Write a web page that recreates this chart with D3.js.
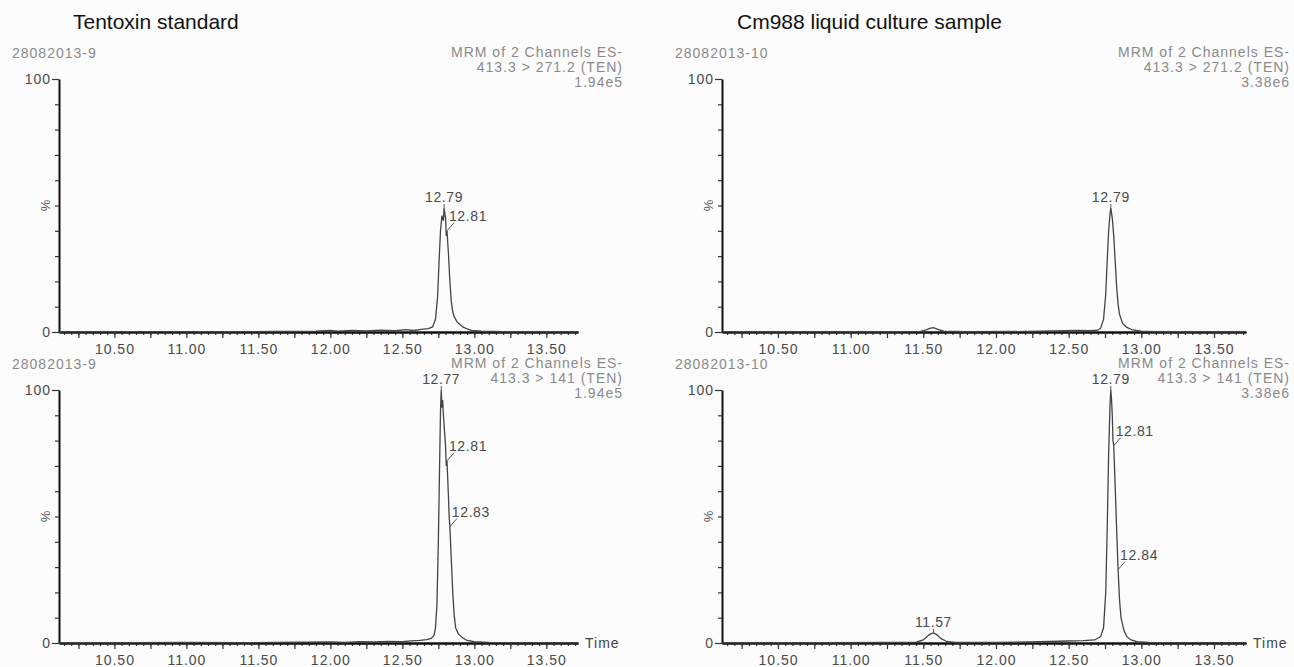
<!DOCTYPE html>
<html>
<head>
<meta charset="utf-8">
<script src="https://cdnjs.cloudflare.com/ajax/libs/d3/7.8.5/d3.min.js"></script>
<style>
body { margin: 0; background: #fcfcfc; }
svg { font-family: "Liberation Sans", Arial, sans-serif; }
.hdr { fill: #8a8a8a; font-size: 14px; letter-spacing: 1px; }
.tick text { fill: #4a4a4a; font-size: 14px; letter-spacing: 1px; font-family: "Liberation Sans", Arial, sans-serif; }
.pk { fill: #4a4a4a; font-size: 14px; letter-spacing: 0.6px; }
</style>
</head>
<body>
<div id="main"></div>
<script>
var WIDTH = 1294
var HEIGHT = 667

// [retention time (min), relative intensity (%)]
var stdTen271 = [
    [10.12, 0.1], [10.40, 0.1], [10.80, 0.15], [11.20, 0.1], [11.60, 0.2], [11.90, 0.3],
    [12.00, 0.6], [12.05, 0.3], [12.15, 0.6], [12.25, 0.4], [12.35, 0.7], [12.45, 0.5],
    [12.52, 0.9], [12.58, 0.6], [12.63, 1.0], [12.68, 1.3], [12.71, 2], [12.73, 5],
    [12.745, 14], [12.755, 28], [12.765, 40], [12.775, 46], [12.785, 44], [12.79, 49],
    [12.80, 45], [12.805, 38], [12.81, 40], [12.82, 31], [12.83, 20], [12.84, 12], [12.85, 8],
    [12.86, 6], [12.88, 4], [12.90, 3], [12.92, 2], [12.95, 1.2], [12.98, 0.6],
    [13.05, 0.3], [13.20, 0.1], [13.72, 0.1]
]
var stdTen141 = [
    [10.12, 0.1], [10.60, 0.1], [11.00, 0.2], [11.40, 0.1], [11.80, 0.3], [12.00, 0.4],
    [12.10, 0.2], [12.20, 0.5], [12.30, 0.4], [12.40, 0.6], [12.50, 0.5], [12.56, 0.8],
    [12.62, 1.0], [12.67, 1.3], [12.70, 1.8], [12.72, 3], [12.73, 6], [12.74, 15],
    [12.75, 40], [12.76, 75], [12.765, 92], [12.77, 100], [12.775, 93], [12.78, 96],
    [12.785, 90], [12.79, 86], [12.80, 78], [12.805, 70], [12.81, 72], [12.82, 58],
    [12.825, 50], [12.83, 46], [12.84, 33], [12.85, 20], [12.86, 11], [12.87, 6],
    [12.89, 3.5], [12.92, 2], [12.95, 1], [13.00, 0.5], [13.10, 0.2], [13.72, 0.1]
]
var smpTen271 = [
    [10.12, 0.1], [10.80, 0.1], [11.30, 0.1], [11.48, 0.2], [11.52, 0.8], [11.55, 1.5],
    [11.57, 1.7], [11.60, 1.0], [11.64, 0.3], [11.80, 0.1], [12.20, 0.2], [12.40, 0.4],
    [12.55, 0.6], [12.65, 0.5], [12.70, 0.7], [12.72, 1.5], [12.74, 5], [12.755, 15],
    [12.765, 28], [12.775, 40], [12.785, 47], [12.79, 49], [12.80, 45], [12.81, 38],
    [12.82, 28], [12.83, 18], [12.84, 11], [12.85, 7], [12.87, 3.5], [12.90, 1.8],
    [12.94, 0.8], [13.00, 0.3], [13.10, 0.1], [13.72, 0.1]
]
var smpTen141 = [
    [10.12, 0.1], [10.80, 0.1], [11.30, 0.2], [11.45, 0.3], [11.50, 1.2], [11.53, 2.8],
    [11.55, 3.6], [11.57, 4.0], [11.59, 3.4], [11.62, 1.8], [11.66, 0.6], [11.72, 0.2],
    [12.00, 0.2], [12.30, 0.5], [12.50, 0.8], [12.60, 0.9], [12.68, 1.2], [12.72, 2.5],
    [12.74, 6], [12.755, 20], [12.765, 45], [12.775, 75], [12.785, 95], [12.79, 100],
    [12.795, 96], [12.80, 90], [12.805, 80], [12.81, 78], [12.82, 62], [12.83, 45],
    [12.84, 29], [12.85, 17], [12.86, 10], [12.88, 5], [12.90, 2.5], [12.93, 1.2],
    [12.97, 0.5], [13.05, 0.2], [13.72, 0.1]
]

// labelled retention times
var stdPeaks271 = ["12.79", "12.81"]
var stdPeaks141 = ["12.77", "12.81", "12.83"]
var smpPeaks271 = ["12.79"]
var smpPeaks141 = ["11.57", "12.79", "12.81", "12.84"]

var titles = ["Tentoxin standard", "Cm988 liquid culture sample"]
var sampleIds = ["28082013-9", "28082013-10"]
var channels = ["413.3 > 271.2 (TEN)", "413.3 > 141 (TEN)"]
var intensities = ["1.94e5", "3.38e6"]
var timeTicks = [10.50, 11.00, 11.50, 12.00, 12.50, 13.00, 13.50]
var yTicks = [0, 100]

var timeDomain = [10.115, 13.72]
var colX = [[59, 578], [722, 1246]]
var rowY = [[332, 79], [643, 390]]
var titleX = [73, 737]
var hdrLeft = [12, 675]
var hdrRight = [623, 1290]

const svg = d3.select('#main').append('svg')
    .attr('width', WIDTH)
    .attr('height', HEIGHT)

titles.forEach((t, i) => {
    svg.append('text')
        .attr('x', titleX[i])
        .attr('y', 29)
        .attr('font-size', 21)
        .attr('fill', '#111')
        .text(t)
})

var panels = [
    { col: 0, row: 0, data: stdTen271, peaks: stdPeaks271 },
    { col: 0, row: 1, data: stdTen141, peaks: stdPeaks141 },
    { col: 1, row: 0, data: smpTen271, peaks: smpPeaks271 },
    { col: 1, row: 1, data: smpTen141, peaks: smpPeaks141 }
]

var minorT = d3.range(203, 275).map(k => k / 20)
var majorT = d3.range(41, 55).map(k => k / 4)

panels.forEach(p => {
    var x = d3.scaleLinear().domain(timeDomain).range(colX[p.col])
    var y = d3.scaleLinear().domain([0, 100]).range(rowY[p.row])
    var g = svg.append('g')
    var top = y(100)

    // header text
    g.append('text')
        .attr('class', 'hdr')
        .attr('x', hdrLeft[p.col])
        .attr('y', top - 21)
        .text(sampleIds[p.col])
    var hdr = ['MRM of 2 Channels ES-', channels[p.row], intensities[p.col]]
    hdr.forEach((s, i) => {
        g.append('text')
            .attr('class', 'hdr')
            .attr('x', hdrRight[p.col])
            .attr('y', top - 22 + i * 15)
            .attr('text-anchor', 'end')
            .text(s)
    })

    // x axis
    var xa1 = g.append('g')
        .attr('transform', 'translate(0,' + y(0) + ')')
        .call(d3.axisBottom(x).tickValues(minorT).tickSize(3).tickSizeOuter(0).tickFormat(''))
    var xa2 = g.append('g')
        .attr('transform', 'translate(0,' + y(0) + ')')
        .call(d3.axisBottom(x).tickValues(majorT).tickSize(6).tickSizeOuter(0)
            .tickFormat(d => timeTicks.some(v => Math.abs(v - d) < 1e-6) ? d.toFixed(2) : ''))
    xa2.selectAll('.tick text').attr('dy', '0.95em')
    ;[xa1, xa2].forEach(a => {
        a.select('.domain').attr('stroke', '#111').attr('stroke-width', 2)
        a.selectAll('.tick line').attr('stroke', '#333').attr('stroke-width', 1.2)
    })

    // y axis
    var ya = g.append('g')
        .attr('transform', 'translate(' + colX[p.col][0] + ',0)')
        .call(d3.axisLeft(y).tickValues(d3.range(0, 101, 10)).tickSize(4).tickSizeOuter(0)
            .tickFormat(d => yTicks.includes(d) ? d : ''))
    ya.select('.domain').attr('stroke', '#111').attr('stroke-width', 2)
    ya.selectAll('.tick line').attr('stroke', '#333').attr('stroke-width', 1.2)
        .attr('x2', d => yTicks.includes(d) ? -7 : -4)
    ya.selectAll('.tick text').attr('x', -8)
    g.append('text')
        .attr('transform', 'translate(' + (colX[p.col][0] - 9) + ',' + y(50) + ') rotate(-90)')
        .attr('text-anchor', 'middle')
        .attr('font-size', 13)
        .attr('fill', '#555')
        .text('%')

    if (p.row === 1) {
        g.append('text')
            .attr('x', colX[p.col][1] + 7)
            .attr('y', y(0) + 5)
            .attr('font-size', 14)
            .attr('letter-spacing', 1)
            .attr('fill', '#444')
            .text('Time')
    }

    // trace
    g.append('path')
        .datum(p.data)
        .attr('fill', 'none')
        .attr('stroke', '#444')
        .attr('stroke-width', 1.3)
        .attr('d', d3.line().x(d => x(d[0])).y(d => y(d[1])))

    // peak labels
    p.peaks.forEach(lbl => {
        var t = +lbl
        var pt = p.data.find(d => Math.abs(d[0] - t) < 1e-6)
        var localMax = d3.max(p.data.filter(d => Math.abs(d[0] - t) <= 0.05), d => d[1])
        var px = x(pt[0]), py = y(pt[1])
        if (pt[1] >= localMax) {
            g.append('line')
                .attr('x1', px).attr('x2', px)
                .attr('y1', py).attr('y2', py - 4)
                .attr('stroke', '#555')
            g.append('text')
                .attr('class', 'pk')
                .attr('x', px)
                .attr('y', py - 6)
                .attr('text-anchor', 'middle')
                .text(lbl)
        } else {
            g.append('line')
                .attr('x1', px).attr('x2', px + 7)
                .attr('y1', py).attr('y2', py - 8)
                .attr('stroke', '#555')
            g.append('text')
                .attr('class', 'pk')
                .attr('x', px + 2)
                .attr('y', py - 10)
                .text(lbl)
        }
    })
})
</script>
</body>
</html>
